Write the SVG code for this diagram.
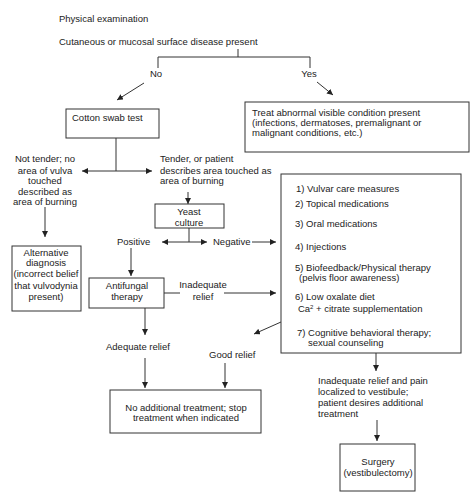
<svg xmlns="http://www.w3.org/2000/svg" width="472" height="500" viewBox="0 0 472 500">
<defs>
<marker id="ah" viewBox="0 0 10 10" refX="10" refY="5" markerWidth="6" markerHeight="6" markerUnits="userSpaceOnUse" orient="auto-start-reverse">
<path d="M0,0 L10,5 L0,10 z" fill="#222"/>
</marker>
<style>
text{font-family:"Liberation Sans",Arial,sans-serif;font-size:9.5px;fill:#222}
.c{text-anchor:middle}
.sup{font-size:6px}
rect{fill:#fff;stroke:#333;stroke-width:1}
#connectors line,#connectors path{stroke:#333;stroke-width:1;fill:none}
.a{marker-end:url(#ah)}
.d{marker-start:url(#ah);marker-end:url(#ah)}
</style>
</defs>
<rect x="0" y="0" width="472" height="500" style="stroke:none"/>
<g id="connectors">
<path d="M238,49 V57 M158,68 V57 H310 V68"/>
<line class="a" x1="144" y1="83" x2="117" y2="100"/>
<line class="a" x1="317" y1="82" x2="333" y2="95"/>
<line x1="116" y1="138" x2="116" y2="171"/>
<line class="d" x1="82" y1="171" x2="152" y2="171"/>
<line class="a" x1="188" y1="192" x2="188" y2="204"/>
<line class="a" x1="45" y1="207" x2="45" y2="237"/>
<line x1="189" y1="228" x2="189" y2="242"/>
<line class="d" x1="162" y1="242" x2="207" y2="242"/>
<line class="a" x1="131" y1="248" x2="131" y2="276"/>
<line x1="164" y1="293" x2="180" y2="293"/>
<line class="a" x1="224" y1="293" x2="276" y2="293"/>
<line class="a" x1="252" y1="242" x2="276" y2="242"/>
<line class="a" x1="145" y1="308" x2="145" y2="335"/>
<line class="a" x1="145" y1="358" x2="145" y2="388"/>
<line class="a" x1="225" y1="363" x2="225" y2="388"/>
<line class="a" x1="281" y1="322" x2="254" y2="334"/>
<line class="a" x1="376" y1="353" x2="376" y2="371"/>
<line class="a" x1="377" y1="420" x2="377" y2="441"/>
</g>
<g id="title"><text x="59" y="22">Physical examination</text></g>
<g id="question"><text x="59" y="45">Cutaneous or mucosal surface disease present</text></g>
<g id="no"><text class="c" x="156" y="77">No</text></g>
<g id="yes"><text class="c" x="309" y="77">Yes</text></g>
<g id="cotton"><rect x="66" y="109" width="93" height="29"/><text x="72" y="121">Cotton swab test</text></g>
<g id="treat"><rect x="245" y="102" width="224" height="50"/>
<text x="252" y="116">Treat abnormal visible condition present</text>
<text x="252" y="126">(infections, dermatoses, premalignant or</text>
<text x="252" y="136">malignant conditions, etc.)</text></g>
<g id="nottender">
<text class="c" x="45" y="162">Not tender; no</text>
<text class="c" x="45" y="174">area of vulva</text>
<text class="c" x="45" y="184">touched</text>
<text class="c" x="45" y="195">described as</text>
<text class="c" x="45" y="205">area of burning</text></g>
<g id="tender">
<text x="160" y="162">Tender, or patient</text>
<text x="160" y="174">describes area touched as</text>
<text x="160" y="184">area of burning</text></g>
<g id="yeast"><rect x="155" y="204" width="69" height="24"/>
<text class="c" x="189" y="215">Yeast</text><text class="c" x="189" y="226">culture</text></g>
<g id="positive"><text x="117" y="245">Positive</text></g>
<g id="negative"><text x="213" y="245">Negative</text></g>
<g id="alternative"><rect x="12" y="246" width="69" height="65"/>
<text class="c" x="46" y="256">Alternative</text>
<text class="c" x="46" y="266">diagnosis</text>
<text class="c" x="46" y="277">(incorrect belief</text>
<text class="c" x="46" y="289">that vulvodynia</text>
<text class="c" x="46" y="300">present)</text></g>
<g id="antifungal"><rect x="89" y="278" width="75" height="30"/>
<text class="c" x="127" y="289">Antifungal</text><text class="c" x="127" y="300">therapy</text></g>
<g id="inadequate"><text class="c" x="203" y="288">Inadequate</text><text class="c" x="203" y="300">relief</text></g>
<g id="treatments"><rect x="281" y="174" width="180" height="179"/>
<text x="296" y="192">1) Vulvar care measures</text>
<text x="295" y="207">2) Topical medications</text>
<text x="295" y="227">3) Oral medications</text>
<text x="295" y="250">4) Injections</text>
<text x="295" y="271">5) Biofeedback/Physical therapy</text>
<text x="299" y="281">(pelvis floor awareness)</text>
<text x="295" y="300">6) Low oxalate diet</text>
<text x="298" y="312">Ca</text>
<text class="sup" x="310" y="309">2</text>
<text x="316" y="312">+ citrate supplementation</text>
<text x="297" y="336">7) Cognitive behavioral therapy;</text>
<text x="308" y="346">sexual counseling</text></g>
<g id="adequate"><text x="106" y="350">Adequate relief</text></g>
<g id="good"><text x="209" y="358">Good relief</text></g>
<g id="noadditional"><rect x="110" y="390" width="151" height="43"/>
<text class="c" x="186" y="411">No additional treatment; stop</text>
<text class="c" x="186" y="421">treatment when indicated</text></g>
<g id="inadequate2">
<text x="318" y="384">Inadequate relief and pain</text>
<text x="318" y="395">localized to vestibule;</text>
<text x="318" y="406">patient desires additional</text>
<text x="318" y="417">treatment</text></g>
<g id="surgery"><rect x="340" y="444" width="75" height="47"/>
<text class="c" x="378" y="465">Surgery</text><text class="c" x="378" y="476">(vestibulectomy)</text></g>
</svg>
